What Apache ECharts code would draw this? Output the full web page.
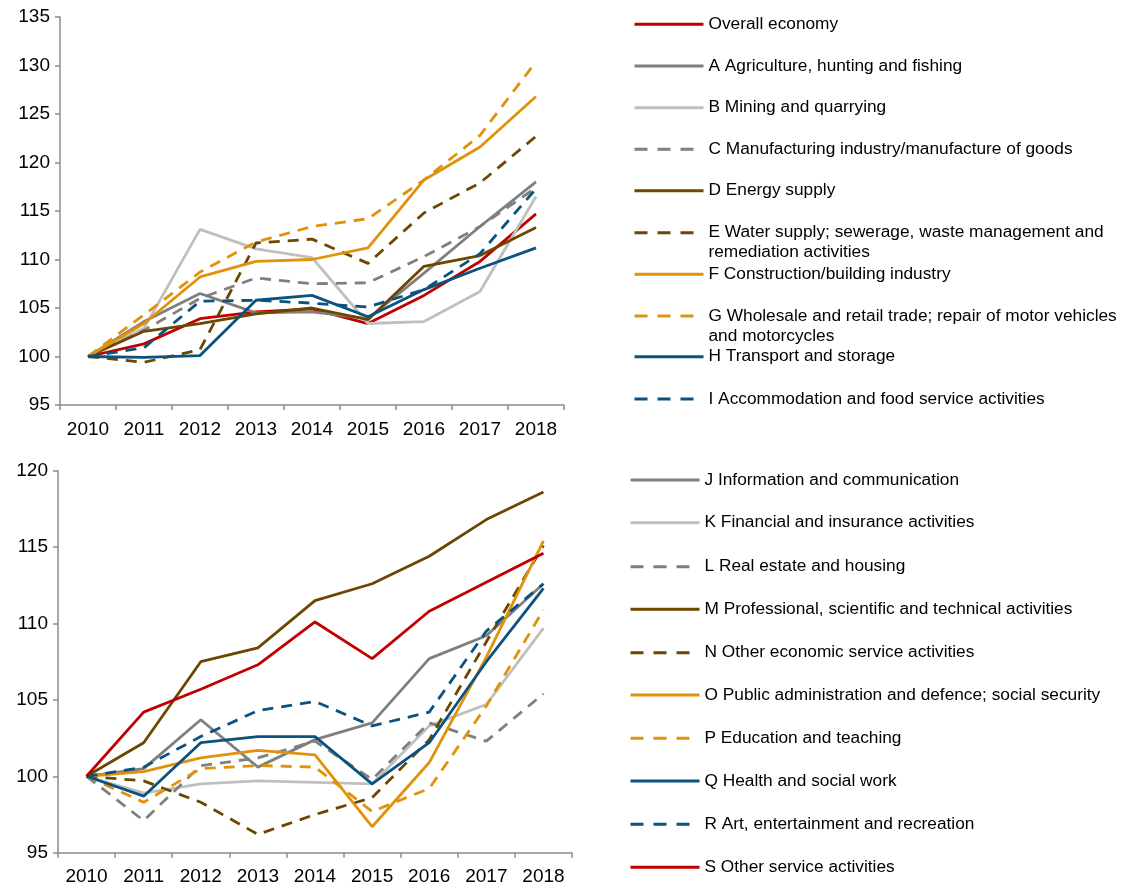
<!DOCTYPE html>
<html>
<head>
<meta charset="utf-8">
<script src="https://cdn.jsdelivr.net/npm/echarts@6/dist/echarts.min.js"></script>
<style>
  html, body { margin: 0; padding: 0; background: #fff; }
  #main { width: 1122px; height: 888px; }
</style>
</head>
<body>
<div id="main"></div>
<script>
// years on the x axis (both panels)
const years = ['2010', '2011', '2012', '2013', '2014', '2015', '2016', '2017', '2018'];
const topTicks = [95, 135, 5];    // min, max, step
const bottomTicks = [95, 120, 5];

// upper panel
const overall = [100, 101.3, 103.9, 104.6, 104.9, 103.4, 106.3, 109.8, 114.7];
const agriculture = [100, 103.6, 106.5, 104.5, 104.6, 103.9, 108.6, 113.4, 118.0];
const mining = [100, 102.9, 113.1, 111.1, 110.2, 103.4, 103.6, 106.7, 116.5];
const manufacturing = [100, 102.7, 106.0, 108.1, 107.5, 107.6, 110.3, 113.4, 117.4];
const energy = [100, 102.6, 103.4, 104.4, 105.0, 103.8, 109.3, 110.4, 113.3];
const water = [100, 99.4, 100.7, 111.7, 112.1, 109.6, 114.8, 117.9, 122.7];
const construction = [100, 103.4, 108.2, 109.8, 110.0, 111.2, 118.2, 121.6, 126.8];
const trade = [100, 104.3, 108.7, 111.8, 113.4, 114.2, 118.2, 122.8, 130.4];
const transport = [100, 99.9, 100.1, 105.8, 106.3, 104.1, 106.9, 109.1, 111.2];
const accommodation = [100, 100.9, 105.7, 105.8, 105.5, 105.1, 106.9, 110.6, 117.3];

// lower panel
const information = [100, 100.5, 103.7, 100.6, 102.4, 103.5, 107.7, 109.2, 112.6];
const financial = [100, 98.9, 99.5, 99.7, 99.6, 99.5, 103.3, 104.7, 109.7];
const realEstate = [100, 97.1, 100.7, 101.2, 102.3, 99.8, 103.5, 102.3, 105.4];
const professional = [100, 102.2, 107.5, 108.4, 111.5, 112.6, 114.4, 116.8, 118.6];
const otherEconomic = [100, 99.7, 98.3, 96.2, 97.5, 98.6, 102.4, 108.8, 115.1];
const publicAdmin = [100, 100.3, 101.2, 101.7, 101.4, 96.7, 100.9, 107.8, 115.4];
const education = [100, 98.3, 100.5, 100.7, 100.6, 97.7, 99.2, 104.6, 110.9];
const health = [100, 98.7, 102.2, 102.6, 102.6, 99.5, 102.2, 107.5, 112.3];
const art = [100, 100.6, 102.6, 104.3, 104.9, 103.3, 104.2, 109.5, 112.6];
const otherService = [100, 104.2, 105.7, 107.3, 110.1, 107.7, 110.8, 112.7, 114.6];

const topNames = [
    'Overall economy',
    'A Agriculture, hunting and fishing',
    'B Mining and quarrying',
    'C Manufacturing industry/manufacture of goods',
    'D Energy supply',
    'E Water supply; sewerage, waste management and\nremediation activities',
    'F Construction/building industry',
    'G Wholesale and retail trade; repair of motor vehicles\nand motorcycles',
    'H Transport and storage',
    'I Accommodation and food service activities'
];
const topValues = [overall, agriculture, mining, manufacturing, energy, water, construction, trade, transport, accommodation];

const bottomNames = [
    'J Information and communication',
    'K Financial and insurance activities',
    'L Real estate and housing',
    'M Professional, scientific and technical activities',
    'N Other economic service activities',
    'O Public administration and defence; social security',
    'P Education and teaching',
    'Q Health and social work',
    'R Art, entertainment and recreation',
    'S Other service activities'
];
const bottomValues = [information, financial, realEstate, professional, otherEconomic, publicAdmin, education, health, art, otherService];

// styles (colour, dashed?)
const RED = '#C00000', GREY = '#7F7F7F', LIGHT = '#BFBFBF', BROWN = '#6B4700', ORANGE = '#E0920A', BLUE = '#0B527E';
const topStyles = [[RED, false], [GREY, false], [LIGHT, false], [GREY, true], [BROWN, false],
    [BROWN, true], [ORANGE, false], [ORANGE, true], [BLUE, false], [BLUE, true]];
const bottomStyles = [[GREY, false], [LIGHT, false], [GREY, true], [BROWN, false], [BROWN, true],
    [ORANGE, false], [ORANGE, true], [BLUE, false], [BLUE, true], [RED, false]];

// legend icon centre (px) for each entry
const topLegendY = [24.3, 66, 107.7, 149.3, 190.7, 232.7, 274.3, 316, 356.7, 399];
const bottomLegendY = [480, 522.7, 566.7, 609.3, 652.7, 695, 738.3, 781, 824.3, 867.3];

const myChart = echarts.init(document.getElementById('main'));

const axisColor = '#8C8C8C';
function xAxis(gridIndex) {
    return {
        type: 'category',
        gridIndex: gridIndex,
        data: years,
        boundaryGap: true,
        axisLine: { lineStyle: { color: axisColor, width: 1.5 } },
        axisTick: { show: true, length: 5, lineStyle: { color: axisColor, width: 1.5 } },
        axisLabel: { color: '#000', fontSize: 19, fontFamily: 'Liberation Sans', margin: 15 },
        splitLine: { show: false }
    }
}
function yAxis(gridIndex, ticks) {
    return {
        type: 'value',
        gridIndex: gridIndex,
        min: ticks[0],
        max: ticks[1],
        interval: ticks[2],
        axisLine: { show: true, lineStyle: { color: axisColor, width: 1.5 } },
        axisTick: { show: true, length: 5, lineStyle: { color: axisColor, width: 1.5 } },
        axisLabel: { color: '#000', fontSize: 19, fontFamily: 'Liberation Sans', margin: 10 },
        splitLine: { show: false }
    }
}

let series = [];
let legends = [];
function addGroup(names, values, styles, legendY, axisIndex, legendLeft) {
    for (let i = 0; i < names.length; i++) {
        const color = styles[i][0];
        const dashed = styles[i][1];
        series.push({
            name: names[i],
            type: 'line',
            xAxisIndex: axisIndex,
            yAxisIndex: axisIndex,
            data: values[i],
            symbol: 'none',
            silent: true,
            color: color,
            lineStyle: { color: color, width: 2.8, type: dashed ? [11, 8] : 'solid' }
        });
        // two-line names: an empty first line keeps the icon level with line one
        const twoLines = names[i].indexOf('\n') > -1;
        legends.push({
            data: [names[i]],
            orient: 'vertical',
            left: legendLeft,
            top: legendY[i] - (twoLines ? 30 : 10),
            padding: 0,
            selectedMode: false,
            itemWidth: 69,
            itemHeight: 14,
            itemStyle: { opacity: 0 },
            lineStyle: { width: 3, type: dashed ? [13, 10] : 'solid' },
            formatter: function (name) {
                return twoLines ? ' \n' + name : name
            },
            textStyle: {
                color: '#000',
                fontSize: 17.3,
                fontFamily: 'Liberation Sans',
                lineHeight: 20
            }
        });
    }
}
addGroup(topNames, topValues, topStyles, topLegendY, 0, 633);
addGroup(bottomNames, bottomValues, bottomStyles, bottomLegendY, 1, 629);

const option = {
    backgroundColor: '#fff',
    animation: false,
    grid: [
        { left: 60, top: 17, width: 504, height: 388 },
        { left: 58, top: 470.7, width: 514, height: 382 }
    ],
    xAxis: [xAxis(0), xAxis(1)],
    yAxis: [yAxis(0, topTicks), yAxis(1, bottomTicks)],
    legend: legends,
    series: series
};
myChart.setOption(option);
</script>
</body>
</html>
